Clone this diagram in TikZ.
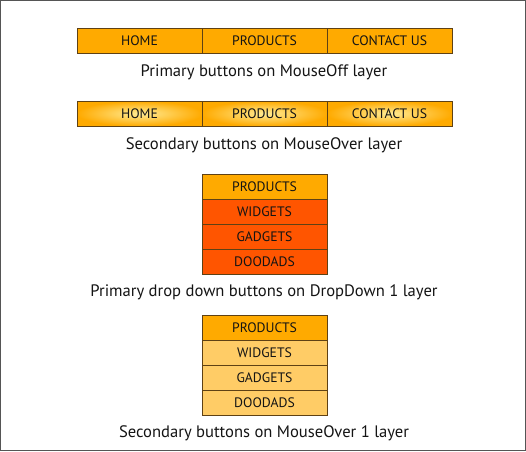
\documentclass[tikz,border=0pt]{standalone}
\usepackage{fontspec}
\setmainfont{PT Sans}
\definecolor{btnorange}{RGB}{255,170,0}
\definecolor{btnred}{RGB}{255,85,0}
\definecolor{btnlight}{RGB}{255,204,102}
\definecolor{btnglow}{RGB}{255,236,150}
\definecolor{btnedge}{RGB}{95,65,20}
\definecolor{framegray}{RGB}{85,85,85}
\definecolor{txt}{RGB}{20,20,20}
\tikzset{
  btn/.style={draw=btnedge, line width=1pt, minimum width=125pt, minimum height=25pt,
    inner sep=0pt, anchor=center, font=\fontsize{13.7}{15}\selectfont, text=txt},
  offbtn/.style={btn, fill=btnorange},
  glowbtn/.style={btn, inner color=btnglow, outer color=btnorange},
  redbtn/.style={btn, fill=btnred},
  lightbtn/.style={btn, fill=btnlight},
  caption/.style={font=\fontsize{16.6}{18}\selectfont, text=txt, anchor=center}
}
\begin{document}
\begin{tikzpicture}[x=1pt,y=-1pt]
\useasboundingbox (0,0) rectangle (526,451);
\draw[framegray, line width=1pt] (0.5,0.5) rectangle (525.5,450.5);
% row 1
\node[offbtn] (h1) at (139.5,40.5) {HOME};
\node[offbtn] (p1) at (264.5,40.5) {PRODUCTS};
\node[offbtn] (c1) at (389.5,40.5) {CONTACT US};
\node[caption] (cap1) at (264,72) {Primary buttons on MouseOff layer};
% row 2
\node[glowbtn] (h2) at (139.5,113.5) {HOME};
\node[glowbtn] (p2) at (264.5,113.5) {PRODUCTS};
\node[glowbtn] (c2) at (389.5,113.5) {CONTACT US};
\node[caption] (cap2) at (264,145) {Secondary buttons on MouseOver layer};
% dropdown 1
\node[offbtn] (dp1) at (264.5,186.5) {PRODUCTS};
\node[redbtn] (dw1) at (264.5,211.5) {WIDGETS};
\node[redbtn] (dg1) at (264.5,236.5) {GADGETS};
\node[redbtn] (dd1) at (264.5,261.5) {DOODADS};
\node[caption] (cap3) at (264,292) {Primary drop down buttons on DropDown 1 layer};
% dropdown 2
\node[offbtn] (dp2) at (264.5,327.5) {PRODUCTS};
\node[lightbtn] (dw2) at (264.5,352.5) {WIDGETS};
\node[lightbtn] (dg2) at (264.5,377.5) {GADGETS};
\node[lightbtn] (dd2) at (264.5,402.5) {DOODADS};
\node[caption] (cap4) at (264,433) {Secondary buttons on MouseOver 1 layer};
\end{tikzpicture}
\end{document}
